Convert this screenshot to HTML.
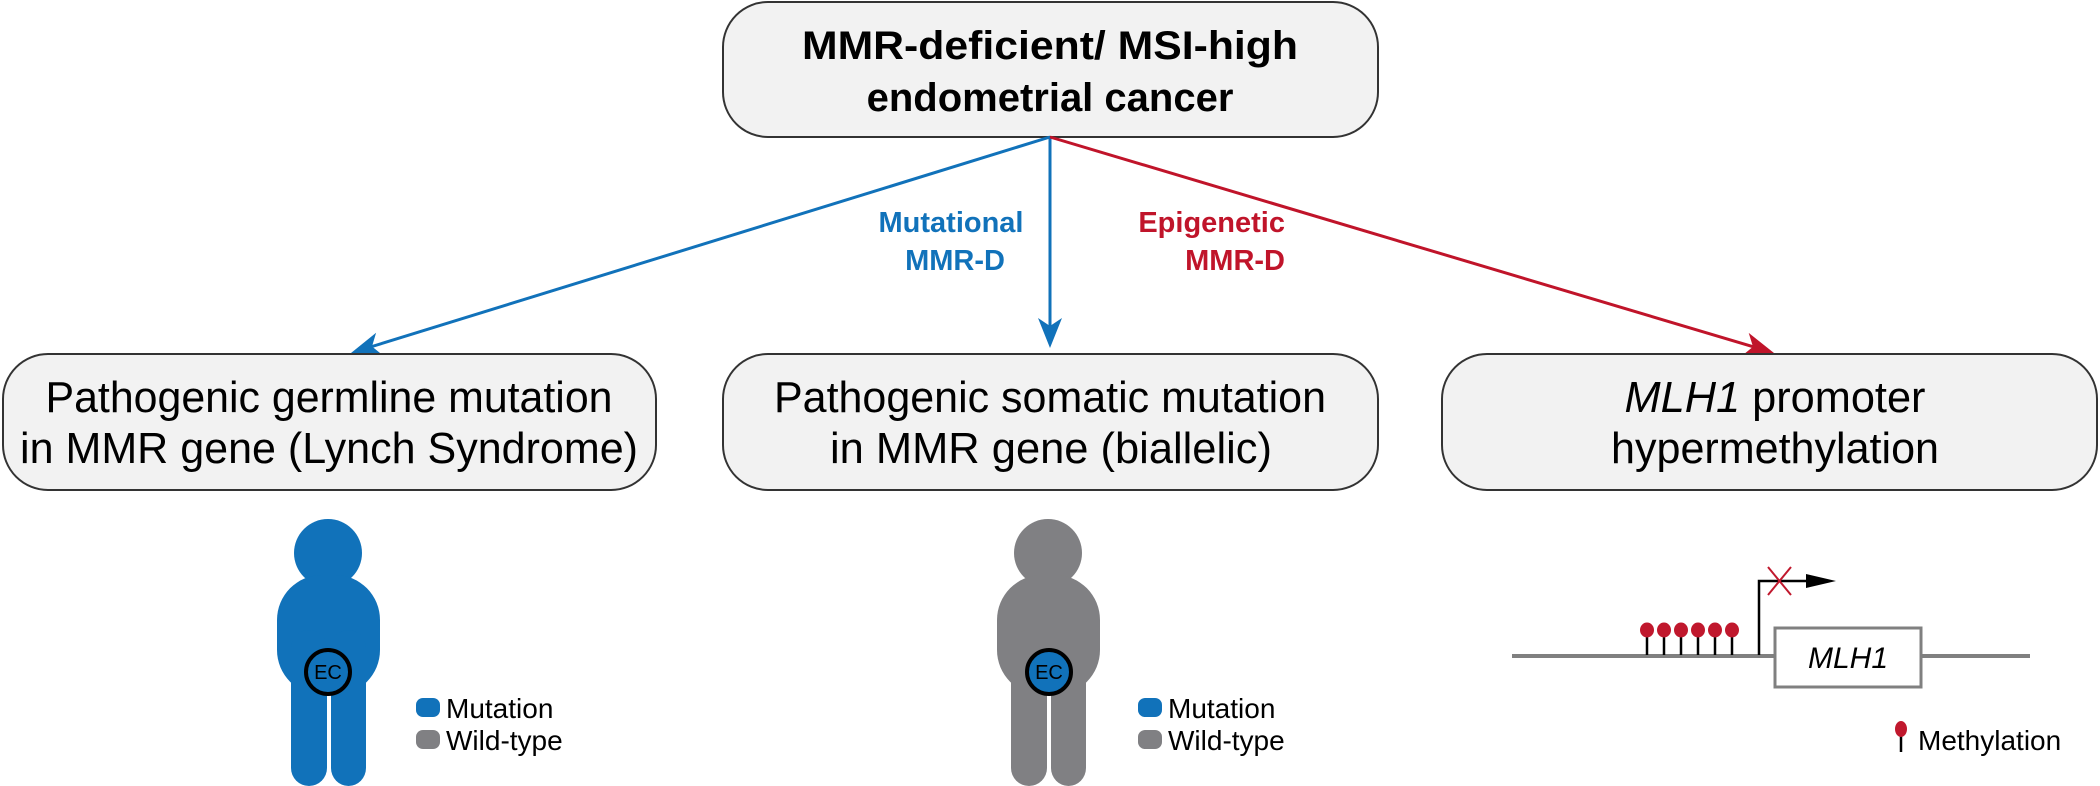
<!DOCTYPE html>
<html><head><meta charset="utf-8"><style>
html,body{margin:0;padding:0;background:#fff;}
svg{display:block;}
text{font-family:"Liberation Sans",Arial,sans-serif;}
</style></head><body>
<svg width="2100" height="786" viewBox="0 0 2100 786" xmlns="http://www.w3.org/2000/svg">
<defs>
<g id="fig">
  <circle cx="0" cy="553" r="34"/>
  <rect x="-51" y="575" width="103" height="120" rx="45" ry="45"/>
  <rect x="-37" y="630" width="36" height="156" rx="18" ry="18"/>
  <rect x="3" y="630" width="35" height="156" rx="18" ry="18"/>
</g>
</defs>
<!-- top box -->
<rect x="723" y="2" width="655" height="135" rx="45" ry="45" fill="#f2f2f2" stroke="#333" stroke-width="2"/>
<text x="1050" y="59" font-size="40" font-weight="bold" text-anchor="middle" textLength="496" lengthAdjust="spacingAndGlyphs">MMR-deficient/ MSI-high</text>
<text x="1050" y="111" font-size="40" font-weight="bold" text-anchor="middle">endometrial cancer</text>

<!-- arrows -->
<line x1="1050" y1="137" x2="372" y2="346.5" stroke="#1172ba" stroke-width="3"/>
<polygon points="351,353 383.2,355.6 372,346.5 376.1,332.7" fill="#1172ba"/>
<line x1="1050" y1="137" x2="1050" y2="326" stroke="#1172ba" stroke-width="3"/>
<polygon points="1050,348 1062,318 1050,326 1038,318" fill="#1172ba"/>
<line x1="1050" y1="137" x2="1753" y2="346.7" stroke="#c0142a" stroke-width="3"/>
<polygon points="1774,353 1748.7,332.9 1753,346.7 1741.9,355.9" fill="#c0142a"/>

<text x="951" y="232" font-size="29" font-weight="bold" fill="#1172ba" text-anchor="middle">Mutational</text>
<text x="955" y="270" font-size="29" font-weight="bold" fill="#1172ba" text-anchor="middle">MMR-D</text>
<text x="1285" y="232" font-size="29" font-weight="bold" fill="#c0142a" text-anchor="end">Epigenetic</text>
<text x="1285" y="270" font-size="29" font-weight="bold" fill="#c0142a" text-anchor="end">MMR-D</text>

<!-- bottom boxes -->
<rect x="3" y="354" width="653" height="136" rx="45" ry="45" fill="#f2f2f2" stroke="#333" stroke-width="2"/>
<text x="329" y="412" font-size="44" text-anchor="middle" textLength="567" lengthAdjust="spacingAndGlyphs">Pathogenic germline mutation</text>
<text x="329" y="463" font-size="44" text-anchor="middle" textLength="618" lengthAdjust="spacingAndGlyphs">in MMR gene (Lynch Syndrome)</text>

<rect x="723" y="354" width="655" height="136" rx="45" ry="45" fill="#f2f2f2" stroke="#333" stroke-width="2"/>
<text x="1050" y="412" font-size="44" text-anchor="middle" textLength="552" lengthAdjust="spacingAndGlyphs">Pathogenic somatic mutation</text>
<text x="1051" y="463" font-size="44" text-anchor="middle" textLength="442" lengthAdjust="spacingAndGlyphs">in MMR gene (biallelic)</text>

<rect x="1442" y="354" width="655" height="136" rx="45" ry="45" fill="#f2f2f2" stroke="#333" stroke-width="2"/>
<text x="1775" y="412" font-size="44" text-anchor="middle" textLength="301" lengthAdjust="spacingAndGlyphs"><tspan font-style="italic">MLH1</tspan> promoter</text>
<text x="1775" y="463" font-size="44" text-anchor="middle" textLength="328" lengthAdjust="spacingAndGlyphs">hypermethylation</text>

<!-- blue figure -->
<use href="#fig" x="328" fill="#1172ba"/>
<circle cx="328" cy="672" r="22" fill="#1172ba" stroke="#000" stroke-width="4"/>
<text x="328" y="679" font-size="20" text-anchor="middle">EC</text>
<rect x="416" y="698" width="24" height="19" rx="7" fill="#1172ba"/>
<text x="446" y="718" font-size="28">Mutation</text>
<rect x="416" y="730" width="24" height="19" rx="7" fill="#808083"/>
<text x="446" y="750" font-size="28">Wild-type</text>

<!-- gray figure -->
<use href="#fig" x="1048" fill="#808083"/>
<circle cx="1049" cy="672" r="22" fill="#1172ba" stroke="#000" stroke-width="4"/>
<text x="1049" y="679" font-size="20" text-anchor="middle">EC</text>
<rect x="1138" y="698" width="24" height="19" rx="7" fill="#1172ba"/>
<text x="1168" y="718" font-size="28">Mutation</text>
<rect x="1138" y="730" width="24" height="19" rx="7" fill="#808083"/>
<text x="1168" y="750" font-size="28">Wild-type</text>

<!-- methylation diagram -->
<line x1="1512" y1="656" x2="1774" y2="656" stroke="#808080" stroke-width="4"/>
<line x1="1921" y1="656" x2="2030" y2="656" stroke="#808080" stroke-width="4"/>
<rect x="1775" y="628" width="146" height="59" fill="#fff" stroke="#808080" stroke-width="3"/>
<text x="1848" y="668" font-size="30" font-style="italic" text-anchor="middle">MLH1</text>
<g stroke="#000" stroke-width="2.5">
<line x1="1647" y1="631" x2="1647" y2="655"/>
<line x1="1664" y1="631" x2="1664" y2="655"/>
<line x1="1681" y1="631" x2="1681" y2="655"/>
<line x1="1698" y1="631" x2="1698" y2="655"/>
<line x1="1715" y1="631" x2="1715" y2="655"/>
<line x1="1732" y1="631" x2="1732" y2="655"/>
</g>
<g fill="#c0182d">
<ellipse cx="1647" cy="630" rx="7" ry="7.5"/>
<ellipse cx="1664" cy="630" rx="7" ry="7.5"/>
<ellipse cx="1681" cy="630" rx="7" ry="7.5"/>
<ellipse cx="1698" cy="630" rx="7" ry="7.5"/>
<ellipse cx="1715" cy="630" rx="7" ry="7.5"/>
<ellipse cx="1732" cy="630" rx="7" ry="7.5"/>
</g>
<polyline points="1759,655 1759,581 1808,581" fill="none" stroke="#000" stroke-width="2.5"/>
<polygon points="1806,574 1836,581 1806,588" fill="#000"/>
<line x1="1768" y1="567" x2="1791" y2="595" stroke="#c0182d" stroke-width="2"/>
<line x1="1791" y1="567" x2="1768" y2="595" stroke="#c0182d" stroke-width="2"/>

<line x1="1901" y1="730" x2="1901" y2="752" stroke="#000" stroke-width="2.5"/>
<ellipse cx="1901" cy="729" rx="6" ry="8" fill="#c0182d"/>
<text x="1918" y="750" font-size="28">Methylation</text>
</svg>
</body></html>
